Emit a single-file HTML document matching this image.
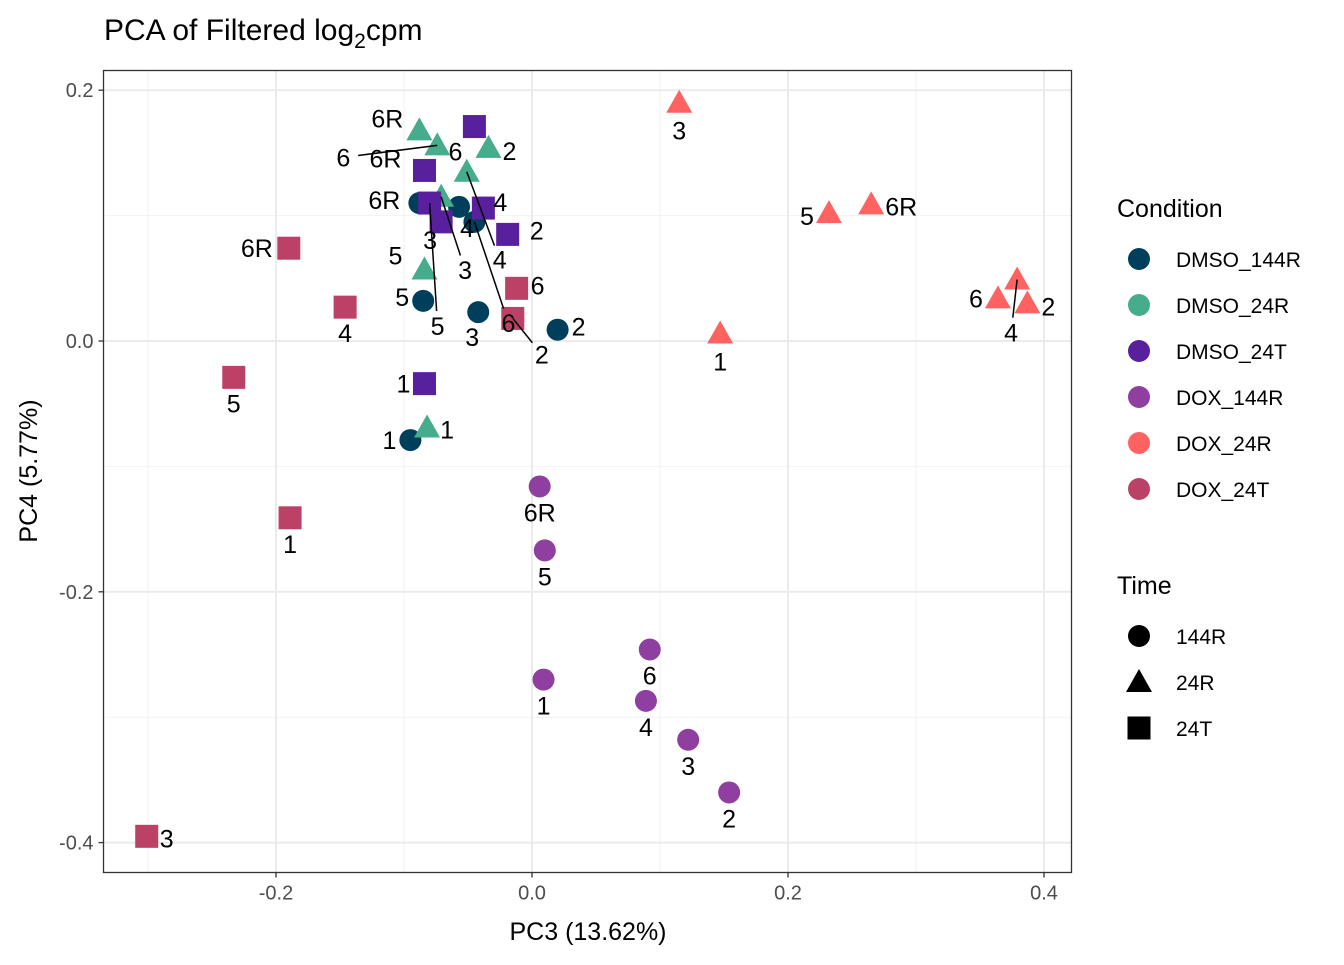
<!DOCTYPE html>
<html><head><meta charset="utf-8">
<style>
body{margin:0;background:#fff;font-family:"Liberation Sans",Arial,sans-serif;}
svg text{font-family:"Liberation Sans",Arial,sans-serif;}
</style></head>
<body>
<svg id="chart" width="1344" height="960" xmlns="http://www.w3.org/2000/svg">
<text x="104" y="40" font-size="30" fill="#000">PCA of Filtered log<tspan font-size="21" dy="8">2</tspan><tspan dy="-8">cpm</tspan></text>
<g id="grid"></g>
<g id="marks"></g>
<rect x="103.5" y="70.5" width="968" height="802" fill="none" stroke="#333" stroke-width="1.3"/>
<g id="axes"></g>
<text x="588" y="940" font-size="25" text-anchor="middle">PC3 (13.62%)</text>
<text transform="translate(37,471) rotate(-90)" font-size="25" text-anchor="middle">PC4 (5.77%)</text>
<g id="legend"></g>
</svg>
<script>
const conditions=["DMSO_144R","DMSO_24R","DMSO_24T","DOX_144R","DOX_24R","DOX_24T"];
const colors=["#003f5c","#45ac8c","#58209c","#8e3fa0","#ff6361","#bc4166"];
const times=["144R","24R","24T"];
const xTicks=[-0.2,0.0,0.2,0.4];
const yTicks=[0.2,0.0,-0.2,-0.4];
const ptCond=[0,0,0,0,0,0,0, 1,1,1,1,1,1,1, 2,2,2,2,2,2,2, 3,3,3,3,3,3,3, 4,4,4,4,4,4,4, 5,5,5,5,5,5,5];
const ptX=[-0.095,0.020,-0.042,-0.057,-0.085,-0.045,-0.088,
 -0.082,-0.034,-0.071,-0.051,-0.084,-0.074,-0.088,
 -0.084,-0.019,-0.071,-0.038,-0.080,-0.045,-0.084,
 0.009,0.154,0.122,0.089,0.010,0.092,0.006,
 0.147,0.387,0.115,0.379,0.232,0.364,0.265,
 -0.189,-0.015,-0.301,-0.146,-0.233,-0.012,-0.190];
const ptY=[-0.079,0.009,0.023,0.107,0.032,0.095,0.110,
 -0.069,0.154,0.115,0.135,0.057,0.156,0.168,
 -0.034,0.085,0.095,0.106,0.110,0.171,0.136,
 -0.270,-0.360,-0.318,-0.287,-0.167,-0.246,-0.116,
 0.006,0.030,0.190,0.049,0.102,0.034,0.109,
 -0.141,0.018,-0.395,0.027,-0.029,0.042,0.074];
const ptLabel=["1","2","3","4","5","6","6R","1","2","3","4","5","6","6R","1","2","3","4","5","6","6R","1","2","3","4","5","6","6R","1","2","3","4","5","6","6R","1","2","3","4","5","6","6R"];
const ldx=[-21,21,-6,8,-21,34,-35, 20,21,24,33,-29,-94,-32, -21,29,-11,17,8,-19,-39, 0,0,0,0,0,0,0, 0,21,0,-6,-22,-22,30, 0,29,20,0,0,21,-32];
const ldy=[0,-3,25,21,-4,101,-3, 2,3,73,88,-14,12,-12, 0,-4,18,-6,123,25,-12, 26,26,26,26,26,26,26, 28,3,28,53,3,0,2, 26,36,2,26,26,-3,0];

const X0=103.5,X1=1071.5,Y0=70.5,Y1=872.5;
const sx=v=>532+v*1280, sy=v=>341-v*1254;
const NS="http://www.w3.org/2000/svg";
function mk(tag,attrs,parent){const e=document.createElementNS(NS,tag);for(const k in attrs)e.setAttribute(k,attrs[k]);parent.appendChild(e);return e;}
const grid=document.getElementById('grid'),axes=document.getElementById('axes'),marks=document.getElementById('marks'),legend=document.getElementById('legend');
mk('rect',{x:X0,y:Y0,width:X1-X0,height:Y1-Y0,fill:'#fff'},grid);
for(let i=0;i<xTicks.length-1;i++){const m=sx((xTicks[i]+xTicks[i+1])/2);mk('line',{x1:m,x2:m,y1:Y0,y2:Y1,stroke:'#f2f2f2','stroke-width':1},grid);}
for(let i=0;i<yTicks.length-1;i++){const m=sy((yTicks[i]+yTicks[i+1])/2);mk('line',{x1:X0,x2:X1,y1:m,y2:m,stroke:'#f2f2f2','stroke-width':1},grid);}
{const m=sx(xTicks[0]-0.1);mk('line',{x1:m,x2:m,y1:Y0,y2:Y1,stroke:'#f2f2f2'},grid);}
xTicks.forEach(t=>{const x=sx(t);mk('line',{x1:x,x2:x,y1:Y0,y2:Y1,stroke:'#ebebeb','stroke-width':2},grid);
 mk('line',{x1:x,x2:x,y1:Y1,y2:Y1+5,stroke:'#333','stroke-width':1.3},axes);
 const tx=mk('text',{x:x,y:Y1+27,'font-size':20,fill:'#4d4d4d','text-anchor':'middle'},axes);tx.textContent=t.toFixed(1);
 
 });
yTicks.forEach(t=>{const y=sy(t);mk('line',{x1:X0,x2:X1,y1:y,y2:y,stroke:'#ebebeb','stroke-width':2},grid);
 mk('line',{x1:X0-5,x2:X0,y1:y,y2:y,stroke:'#333','stroke-width':1.3},axes);
 const tx=mk('text',{x:X0-10,y:y+7,'font-size':20,fill:'#4d4d4d','text-anchor':'end'},axes);tx.textContent=t.toFixed(1);
 
 });

const timeOf=c=>c.split('_')[1];
function shape(t,x,y,col,parent,s){
 s=s||1;let e;
 if(t==='144R')e=mk('circle',{cx:x,cy:y,r:11*s,fill:col},parent);
 else if(t==='24R')e=mk('polygon',{points:`${x-13*s},${y+10*s} ${x+13*s},${y+10*s} ${x},${y-13*s}`,fill:col},parent);
 else e=mk('rect',{x:x-11.5*s,y:y-11.5*s,width:23*s,height:23*s,fill:col},parent);
 return e;}
for(let i=0;i<ptX.length;i++){
 const x=sx(ptX[i]),y=sy(ptY[i]),c=ptCond[i];
 const p=shape(timeOf(conditions[c]),x,y,colors[c],marks);
 
 
}
for(let i=0;i<ptX.length;i++){
 const x=sx(ptX[i]),y=sy(ptY[i]);
 const lx=x+ldx[i],ly=y+ldy[i];
 const d=Math.hypot(ldx[i],ldy[i]);
 if(d>45){
  const k=(d-15)/d;
  const ln=mk('line',{x1:x,y1:y,x2:x+ldx[i]*k,y2:y+ldy[i]*k,stroke:'#000','stroke-width':1.5},marks);
  
  
 }
 const t=mk('text',{x:lx,y:ly+9,'font-size':25,'text-anchor':'middle',fill:'#000'},marks);
 t.textContent=ptLabel[i];
 
 
}
// legend
let lt=mk('text',{x:1117,y:217,'font-size':25},legend);lt.textContent='Condition';


conditions.forEach((c,i)=>{const y=259+i*46;
 const g=mk('g',{},legend);
 
 
 mk('circle',{cx:1139,cy:y,r:11,fill:colors[i]},g);
 const t=mk('text',{x:1176,y:y+8,'font-size':21},g);t.textContent=c;});
lt=mk('text',{x:1117,y:594,'font-size':25},legend);lt.textContent='Time';


times.forEach((t,i)=>{const y=636+i*46;
 const g=mk('g',{},legend);
 
 
 shape(t,1139,y,'#000',g);
 const tx=mk('text',{x:1176,y:y+8,'font-size':21},g);tx.textContent=t;});
</script>
</body></html>
